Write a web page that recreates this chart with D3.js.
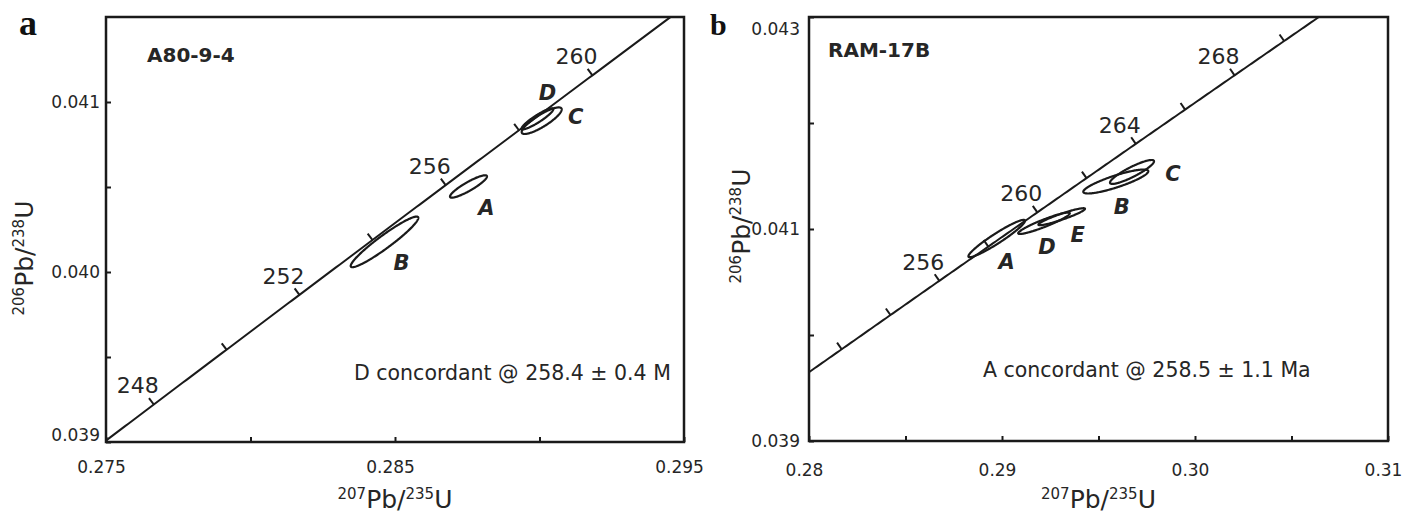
<!DOCTYPE html>
<html>
<head>
<meta charset="utf-8">
<script src="https://cdn.jsdelivr.net/npm/d3@7"></script>
<style>
  body { margin: 0; background: #fff; }
  svg { display: block; font-family: "DejaVu Sans", sans-serif; }
</style>
</head>
<body>
<svg id="chart" width="1407" height="516"></svg>
<script>
// decay constants (per year)
const LAMBDA_238 = 1.55125e-10
const LAMBDA_235 = 9.8485e-10

// ---- panel a : A80-9-4 ----
const xDomainA = [0.275, 0.295]
const yDomainA = [0.039, 0.0415]
const xTicksA = [0.275, 0.280, 0.285, 0.290, 0.295]
const xLabelsA = ['0.275', '', '0.285', '', '0.295']
const yTicksA = [0.039, 0.0395, 0.040, 0.0405, 0.041]
const yLabelsA = ['0.039', '', '0.040', '', '0.041']
const ageTicksA = [248, 250, 252, 254, 256, 258, 260]
const ageLabelsA = [248, 252, 256, 260]
const grainsA = ['A', 'B', 'C', 'D']
const pb207A = [0.287543, 0.284637, 0.290076, 0.289931]
const pb206A = [0.040503, 0.040177, 0.040890, 0.040901]
const err207A = [0.00064, 0.00117, 0.000692, 0.000547]
const err206A = [0.0000659, 0.000149, 0.0000782, 0.0000618]
const rhoA = [0.896, 0.949, 0.85, 0.916]

// ---- panel b : RAM-17B ----
const xDomainB = [0.28, 0.31]
const yDomainB = [0.039, 0.043]
const xTicksB = [0.280, 0.285, 0.290, 0.295, 0.300, 0.305, 0.310]
const xLabelsB = ['0.28', '', '0.29', '', '0.30', '', '0.31']
const yTicksB = [0.039, 0.040, 0.041, 0.042, 0.043]
const yLabelsB = ['0.039', '', '0.041', '', '0.043']
const ageTicksB = [252, 254, 256, 258, 260, 262, 264, 266, 268, 270]
const ageLabelsB = [256, 260, 264, 268]
const grainsB = ['A', 'B', 'C', 'D', 'E']
const pb207B = [0.289725, 0.295896, 0.296736, 0.292176, 0.293093]
const pb206B = [0.040910, 0.041448, 0.041538, 0.041054, 0.041116]
const err207B = [0.001466, 0.001684, 0.00114, 0.001337, 0.001207]
const err206B = [0.000176, 0.000113, 0.000113, 0.000101, 0.0000802]
const rhoB = [0.95, 0.854, 0.889, 0.93, 0.93]

const INK = '#1a1a1a'
const TEXT = '#262626'

function concordia(t) {
  // t in Ma -> [207Pb/235U, 206Pb/238U]
  return [Math.expm1(LAMBDA_235 * t * 1e6), Math.expm1(LAMBDA_238 * t * 1e6)]
}

function ratioTitle(sel, supA, mainA, supB, mainB) {
  sel.append('tspan').attr('font-size', 15).attr('dy', -9).text(supA)
  sel.append('tspan').attr('font-size', 25).attr('dy', 9).text(mainA)
  sel.append('tspan').attr('font-size', 15).attr('dy', -9).text(supB)
  sel.append('tspan').attr('font-size', 25).attr('dy', 9).text(mainB)
}

function drawPanel(svg, cfg) {
  const f = cfg.frame
  const x = d3.scaleLinear().domain(cfg.xDomain).range([f.left, f.right])
  const y = d3.scaleLinear().domain(cfg.yDomain).range([f.bottom, f.top])
  const g = svg.append('g')

  // clip for concordia
  g.append('clipPath').attr('id', 'clip-' + cfg.id)
    .append('rect')
    .attr('x', f.left).attr('y', f.top)
    .attr('width', f.right - f.left).attr('height', f.bottom - f.top)

  // x axis
  const xAxis = g.append('g')
    .attr('transform', `translate(0,${f.bottom})`)
    .call(d3.axisBottom(x)
      .tickValues(cfg.xTicks)
      .tickSize(-5)
      .tickPadding(cfg.xPad)
      .tickFormat((d, i) => cfg.xLabels[i]))
  xAxis.select('.domain').remove()
  xAxis.selectAll('line').attr('stroke', INK).attr('stroke-width', 2)
  xAxis.selectAll('text')
    .attr('font-family', 'DejaVu Sans').attr('font-size', 17)
    .attr('fill', TEXT).attr('dx', -5)

  // y axis
  const yAxis = g.append('g')
    .attr('transform', `translate(${f.left},0)`)
    .call(d3.axisLeft(y)
      .tickValues(cfg.yTicks)
      .tickSize(-5)
      .tickPadding(cfg.yPad)
      .tickFormat((d, i) => cfg.yLabels[i]))
  yAxis.select('.domain').remove()
  yAxis.selectAll('line').attr('stroke', INK).attr('stroke-width', 2)
  yAxis.selectAll('text')
    .attr('font-family', 'DejaVu Sans').attr('font-size', 17)
    .attr('fill', TEXT)
    .attr('y', (d, i) => cfg.yNudge[i] || 0)

  // frame
  g.append('rect')
    .attr('x', f.left).attr('y', f.top)
    .attr('width', f.right - f.left).attr('height', f.bottom - f.top)
    .attr('fill', 'none').attr('stroke', INK).attr('stroke-width', 2.5)

  // concordia curve
  const ts = d3.range(cfg.tRange[0], cfg.tRange[1], 0.1)
  const line = d3.line()
    .x(t => x(concordia(t)[0]))
    .y(t => y(concordia(t)[1]))
  g.append('path')
    .attr('d', line(ts))
    .attr('clip-path', `url(#clip-${cfg.id})`)
    .attr('fill', 'none').attr('stroke', INK).attr('stroke-width', 2)

  // age ticks perpendicular to the curve, on the upper-left side
  cfg.ageTicks.forEach(t => {
    const p = concordia(t), p0 = concordia(t - 0.05), p1 = concordia(t + 0.05)
    const px = x(p[0]), py = y(p[1])
    let tx = x(p1[0]) - x(p0[0]), ty = y(p1[1]) - y(p0[1])
    const len = Math.hypot(tx, ty)
    tx /= len; ty /= len
    g.append('line')
      .attr('x1', px).attr('y1', py)
      .attr('x2', px + ty * 8).attr('y2', py - tx * 8)
      .attr('stroke', INK).attr('stroke-width', 2)
    if (cfg.ageLabels.includes(t)) {
      g.append('text')
        .attr('x', px - 16).attr('y', py - 19)
        .attr('dy', '0.36em')
        .attr('text-anchor', 'middle')
        .attr('font-size', 22).attr('fill', TEXT)
        .text(t)
    }
  })

  // error ellipses
  const angles = d3.range(0, 2 * Math.PI + 0.001, Math.PI / 90)
  cfg.grains.forEach((name, i) => {
    const cx = cfg.pb207[i], cy = cfg.pb206[i]
    const sx = cfg.err207[i], sy = cfg.err206[i], r = cfg.rho[i]
    const pts = angles.map(a => [
      x(cx + sx * Math.cos(a)),
      y(cy + sy * (r * Math.cos(a) + Math.sqrt(1 - r * r) * Math.sin(a)))
    ])
    g.append('path')
      .attr('d', d3.line()(pts) + 'Z')
      .attr('fill', 'none').attr('stroke', INK).attr('stroke-width', 2.2)

    const off = cfg.labelOffset[name]
    g.append('text')
      .attr('x', x(cx) + off[0]).attr('y', y(cy) + off[1])
      .attr('dy', '0.36em')
      .attr('text-anchor', 'middle')
      .attr('font-size', 21).attr('font-weight', 'bold').attr('font-style', 'italic')
      .attr('fill', TEXT)
      .text(name)
  })

  // sample name
  g.append('text')
    .attr('x', cfg.sampleAt[0]).attr('y', cfg.sampleAt[1])
    .attr('font-size', 20).attr('font-weight', 'bold').attr('fill', TEXT)
    .text(cfg.sample)

  // concordance note
  g.append('text')
    .attr('x', cfg.noteAt[0]).attr('y', cfg.noteAt[1])
    .attr('font-size', 20.5).attr('fill', TEXT)
    .text(cfg.note)

  // panel letter
  g.append('text')
    .attr('x', cfg.letterAt[0]).attr('y', cfg.letterAt[1])
    .attr('font-family', 'Liberation Serif').attr('font-weight', 'bold')
    .attr('font-size', cfg.letterSize).attr('fill', '#111')
    .text(cfg.letter)

  // axis titles
  const xt = g.append('text')
    .attr('x', (f.left + f.right) / 2).attr('y', 508)
    .attr('text-anchor', 'middle').attr('fill', TEXT)
  ratioTitle(xt, '207', 'Pb/', '235', 'U')

  const yt = g.append('text')
    .attr('transform', `translate(${cfg.yTitleAt[0]},${cfg.yTitleAt[1]}) rotate(-90)`)
    .attr('text-anchor', 'middle').attr('fill', TEXT)
  ratioTitle(yt, '206', 'Pb/', '238', 'U')
}

const svg = d3.select('#chart')

drawPanel(svg, {
  id: 'a', letter: 'a', letterSize: 36, sample: 'A80-9-4',
  note: 'D concordant @ 258.4 ± 0.4 M',
  frame: { left: 106, top: 17, right: 684, bottom: 442 },
  xDomain: xDomainA, yDomain: yDomainA,
  xTicks: xTicksA, xLabels: xLabelsA, yTicks: yTicksA, yLabels: yLabelsA,
  xPad: 19, yPad: 6, yNudge: [-7, 0, 0, 0, 0],
  tRange: [240, 266],
  ageTicks: ageTicksA, ageLabels: ageLabelsA,
  grains: grainsA, pb207: pb207A, pb206: pb206A,
  err207: err207A, err206: err206A, rho: rhoA,
  labelOffset: { A: [18, 21], B: [17, 21], C: [34, -4], D: [10, -26] },
  sampleAt: [147, 62], noteAt: [354, 380], letterAt: [19, 35],
  yTitleAt: [33, 258]
})

drawPanel(svg, {
  id: 'b', letter: 'b', letterSize: 30, sample: 'RAM-17B',
  note: 'A concordant @ 258.5 ± 1.1 Ma',
  frame: { left: 809, top: 17, right: 1388, bottom: 441 },
  xDomain: xDomainB, yDomain: yDomainB,
  xTicks: xTicksB, xLabels: xLabelsB, yTicks: yTicksB, yLabels: yLabelsB,
  xPad: 23, yPad: 9, yNudge: [0, 0, 0, 0, 12],
  tRange: [245, 276],
  ageTicks: ageTicksB, ageLabels: ageLabelsB,
  grains: grainsB, pb207: pb207B, pb206: pb206B,
  err207: err207B, err206: err206B, rho: rhoB,
  labelOffset: { A: [10, 23], B: [6, 25], C: [41, 1], D: [3, 23], E: [16, 18] },
  sampleAt: [828, 57], noteAt: [983, 377], letterAt: [710, 35],
  yTitleAt: [750, 226]
})
</script>
</body>
</html>
